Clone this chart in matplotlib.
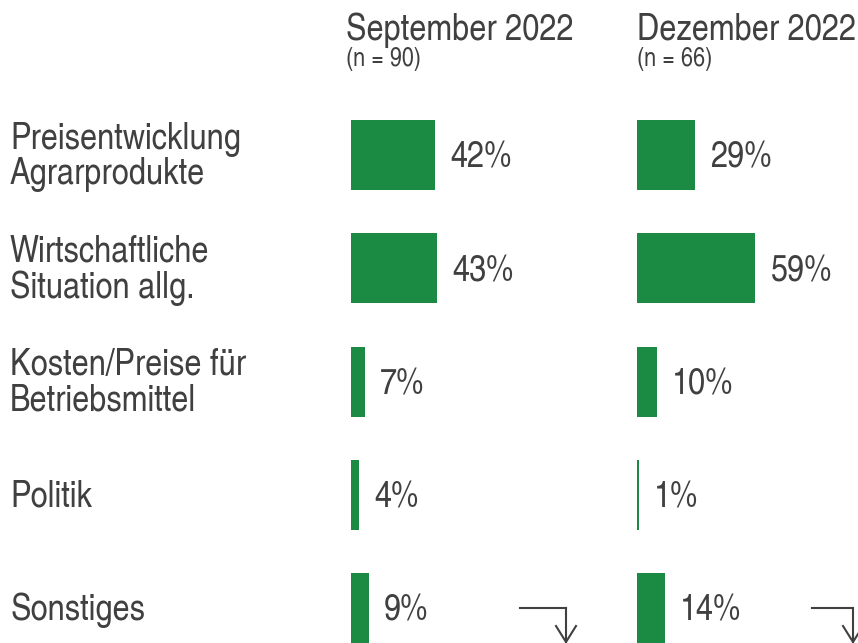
import numpy as np
import matplotlib
matplotlib.use("Agg")
import matplotlib.pyplot as plt
from matplotlib.lines import Line2D

# Daten
kategorien = ["Preisentwicklung\nAgrarprodukte",
              "Wirtschaftliche\nSituation allg.",
              "Kosten/Preise für\nBetriebsmittel",
              "Politik",
              "Sonstiges"]
werte_sep = [42, 43, 7, 4, 9]
werte_dez = [29, 59, 10, 1, 14]
titel = ["September 2022", "Dezember 2022"]
untertitel = ["(n = 90)", "(n = 66)"]

gruen = "#1b8a43"
grau = "#404040"
plt.rcParams['font.family'] = ['TeX Gyre Heros Cn', 'Liberation Sans', 'DejaVu Sans']

W, H = 858, 643
fig = plt.figure(figsize=(W / 100, H / 100), dpi=100)
fig.patch.set_facecolor("white")

zeile = 113.25          # Pixel pro Zeile
y0 = 155                # Mitte der ersten Zeile (px von oben)
px_pro_proz = 2.0
links = [351, 637]
breite = [286, 221]
gross = 27

for i, (werte, x0) in enumerate(zip([werte_sep, werte_dez], links)):
    ax = fig.add_axes([x0 / W, 0, breite[i] / W, 1])
    ax.set_xlim(0, breite[i] / px_pro_proz)
    ax.set_ylim(-y0 / zeile + H / zeile, -y0 / zeile)
    ypos = np.arange(len(werte))
    ax.barh(ypos, werte, height=70 / zeile, color=gruen, edgecolor="none")
    for y, v in zip(ypos, werte):
        ax.text(v + 7.5, y + 0.03, f"{v}%", va="center", ha="left", fontsize=gross, color=grau)
    ax.axis("off")

# Spaltenköpfe
kopf_x = [346, 637]
for x, t, u in zip(kopf_x, titel, untertitel):
    fig.text(x / W, 1 - 40 / H, t, fontsize=gross, color=grau, ha="left", va="baseline")
    fig.text(x / W, 1 - 66 / H, u, fontsize=19, color=grau, ha="left", va="baseline")

# Kategorien
for i, k in enumerate(kategorien):
    fig.text(10 / W, 1 - (y0 + 2 + i * zeile) / H, k, fontsize=gross, color=grau,
             ha="left", va="center", linespacing=1.0)

# Pfeile unten rechts
for xa, xb in [(520, 566), (812, 853)]:
    fig.add_artist(Line2D([xa / W, xb / W], [1 - 608 / H, 1 - 608 / H],
                          color=grau, lw=1.5, transform=fig.transFigure))
    fig.add_artist(Line2D([xb / W, xb / W], [1 - 608 / H, 1 - 642 / H],
                          color=grau, lw=1.5, transform=fig.transFigure))
    fig.add_artist(Line2D([(xb - 10) / W, xb / W, (xb + 10) / W],
                          [1 - 626 / H, 1 - 642 / H, 1 - 626 / H],
                          color=grau, lw=1.5, transform=fig.transFigure))

fig.savefig("out.png", dpi=100, facecolor="white")
